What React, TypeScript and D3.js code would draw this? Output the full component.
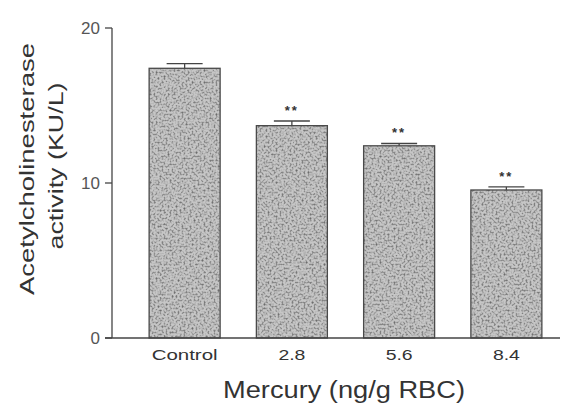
import React from "react";
import * as d3 from "d3";

const categories = ["Control", "2.8", "5.6", "8.4"];
const means = [17.4, 13.7, 12.4, 9.55];
const errors = [0.3, 0.3, 0.15, 0.2];
const stars = ["", "**", "**", "**"];
const yTicks = [0, 10, 20];

export default function App() {
  const W = 565, H = 405;
  const y = d3.scaleLinear().domain([0, 20]).range([338, 28]);
  const x = d3.scaleBand<string>().domain(categories).range([131, 560]).paddingInner(0.338).paddingOuter(0.169);
  const bw = x.bandwidth();
  const axisX = 112;
  const font = "'Liberation Sans', Arial, sans-serif";
  const catLen: Record<string, number> = { Control: 66, "2.8": 27, "5.6": 27, "8.4": 27 };
  return (
    <svg width={W} height={H} style={{ position: "absolute", left: 0, top: 0, background: "#fff" }}>
      <defs>
        <filter id="noise" x="0" y="0" width="100%" height="100%">
          <feTurbulence type="fractalNoise" baseFrequency="0.5" numOctaves={2} seed={3} result="t" />
          <feColorMatrix in="t" type="matrix"
            values="0 0 0 0 0  0 0 0 0 0  0 0 0 0 0  0 0 0 -2.6 1.45" result="n" />
          <feComposite in="n" in2="SourceGraphic" operator="in" />
        </filter>
      </defs>
      {categories.map((c, i) => {
        const x0 = x(c)!;
        const top = y(means[i]);
        const eTop = y(means[i] + errors[i]);
        const cx = x0 + bw / 2;
        return (
          <g key={c}>
            <rect x={x0} y={top} width={bw} height={y(0) - top} fill="#c6c6c6" />
            <rect x={x0} y={top} width={bw} height={y(0) - top} fill="#000" filter="url(#noise)" opacity={0.45} />
            <rect x={x0} y={top} width={bw} height={y(0) - top} fill="none" stroke="#4a4a4a" strokeWidth={1.3} />
            <line x1={cx} x2={cx} y1={top} y2={eTop} stroke="#444" strokeWidth={1.3} />
            <line x1={cx - 18} x2={cx + 18} y1={eTop} y2={eTop} stroke="#444" strokeWidth={1.3} />
            {stars[i] && (
              <text x={cx} y={eTop - 6} textAnchor="middle" fontFamily={font} fontSize={13} fontWeight="bold" fill="#333" letterSpacing={2}>
                {stars[i]}
              </text>
            )}
            <text x={cx} y={360} textAnchor="middle" fontFamily={font} fontSize={15} fill="#333"
              textLength={catLen[c]} lengthAdjust="spacingAndGlyphs">{c}</text>
          </g>
        );
      })}
      <line x1={axisX} x2={axisX} y1={y(20)} y2={y(0)} stroke="#444" strokeWidth={1.3} />
      <line x1={axisX - 7} x2={560} y1={y(0)} y2={y(0)} stroke="#444" strokeWidth={1.3} />
      {yTicks.map((t) => (
        <g key={t}>
          <line x1={axisX - 7} x2={axisX} y1={y(t)} y2={y(t)} stroke="#444" strokeWidth={1.3} />
          <text x={axisX - 12} y={y(t)} dy="0.36em" textAnchor="end" fontFamily={font} fontSize={17} fill="#555">{t}</text>
        </g>
      ))}
      <text transform={`translate(34,169) rotate(-90)`} textAnchor="middle" fontFamily={font} fontSize={21} fill="#333"
        textLength={252} lengthAdjust="spacingAndGlyphs">
        Acetylcholinesterase
      </text>
      <text transform={`translate(63,166) rotate(-90)`} textAnchor="middle" fontFamily={font} fontSize={21} fill="#333"
        textLength={167} lengthAdjust="spacingAndGlyphs">
        activity (KU/L)
      </text>
      <text x={344} y={398} textAnchor="middle" fontFamily={font} fontSize={23} fill="#333"
        textLength={242} lengthAdjust="spacingAndGlyphs">Mercury (ng/g RBC)</text>
    </svg>
  );
}
